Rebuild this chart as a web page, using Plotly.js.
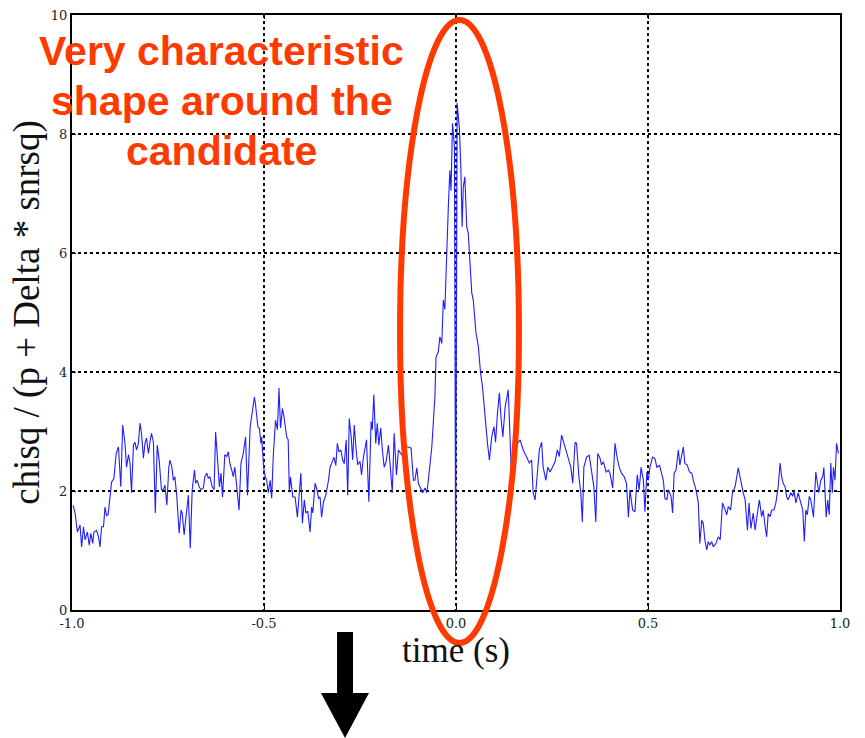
<!DOCTYPE html>
<html>
<head>
<meta charset="utf-8">
<script src="https://cdn.plot.ly/plotly-3.0.1.min.js"></script>
<style>html,body{margin:0;padding:0;background:#fff;}#chart{width:865px;height:738px;}</style>
</head>
<body>
<div id="chart"></div>
<script>
// time (s)
const timeS = [
-0.997,-0.992,-0.986,-0.979,-0.975,-0.970,-0.966,-0.960,-0.955,-0.951,-0.946,-0.943,-0.936,-0.931,-0.927,-0.923,-0.918,-0.914,-0.910,-0.906,
-0.901,-0.897,-0.891,-0.885,-0.879,-0.877,-0.873,-0.868,-0.862,-0.858,-0.853,-0.849,-0.845,-0.840,-0.836,-0.832,-0.827,-0.823,-0.819,-0.814,
-0.810,-0.806,-0.801,-0.797,-0.793,-0.788,-0.783,-0.778,-0.773,-0.767,-0.762,-0.758,-0.753,-0.748,-0.745,-0.740,-0.736,-0.732,-0.727,-0.721,
-0.716,-0.713,-0.708,-0.704,-0.697,-0.692,-0.687,-0.681,-0.678,-0.674,-0.669,-0.664,-0.658,-0.654,-0.649,-0.645,-0.641,-0.635,-0.630,-0.626,
-0.621,-0.616,-0.612,-0.608,-0.602,-0.597,-0.593,-0.589,-0.584,-0.580,-0.576,-0.571,-0.565,-0.560,-0.554,-0.548,-0.543,-0.536,-0.530,-0.525,
-0.522,-0.516,-0.512,-0.508,-0.506,-0.501,-0.497,-0.493,-0.489,-0.484,-0.480,-0.476,-0.470,-0.465,-0.461,-0.457,-0.452,-0.448,-0.441,-0.437,
-0.434,-0.431,-0.425,-0.419,-0.413,-0.408,-0.404,-0.400,-0.395,-0.391,-0.386,-0.380,-0.376,-0.373,-0.367,-0.363,-0.358,-0.354,-0.350,-0.345,
-0.339,-0.332,-0.328,-0.324,-0.318,-0.313,-0.309,-0.305,-0.300,-0.295,-0.291,-0.286,-0.282,-0.278,-0.273,-0.269,-0.265,-0.260,-0.256,-0.250,
-0.246,-0.241,-0.237,-0.233,-0.227,-0.221,-0.218,-0.214,-0.209,-0.205,-0.201,-0.196,-0.192,-0.187,-0.182,-0.176,-0.171,-0.166,-0.161,-0.155,
-0.150,-0.141,-0.133,-0.124,-0.117,-0.111,-0.107,-0.102,-0.098,-0.091,-0.087,-0.081,-0.076,-0.072,-0.063,-0.055,-0.052,-0.046,-0.042,-0.037,
-0.033,-0.029,-0.024,-0.020,-0.016,-0.013,-0.009,-0.004,-0.001,0.003,0.009,0.013,0.016,0.019,0.023,0.028,0.032,0.036,0.041,0.045,
0.052,0.058,0.064,0.069,0.076,0.082,0.087,0.093,0.099,0.103,0.108,0.113,0.117,0.122,0.128,0.131,0.136,0.145,0.154,0.167,
0.175,0.184,0.191,0.197,0.201,0.206,0.210,0.217,0.223,0.227,0.234,0.239,0.245,0.252,0.258,0.264,0.269,0.275,0.280,0.284,
0.288,0.293,0.299,0.304,0.310,0.314,0.320,0.325,0.329,0.333,0.340,0.347,0.353,0.359,0.364,0.369,0.375,0.379,0.384,0.391,
0.397,0.401,0.408,0.414,0.420,0.425,0.431,0.438,0.444,0.449,0.453,0.460,0.466,0.472,0.477,0.482,0.488,0.492,0.497,0.501,
0.505,0.512,0.518,0.523,0.530,0.536,0.540,0.544,0.549,0.553,0.560,0.564,0.568,0.573,0.579,0.583,0.592,0.596,0.602,0.608,
0.614,0.618,0.625,0.631,0.635,0.640,0.644,0.648,0.653,0.657,0.661,0.666,0.670,0.677,0.683,0.688,0.694,0.701,0.705,0.709,
0.715,0.720,0.727,0.735,0.741,0.748,0.753,0.759,0.763,0.768,0.774,0.779,0.785,0.790,0.796,0.800,0.805,0.809,0.813,0.818,
0.822,0.828,0.833,0.839,0.844,0.848,0.852,0.857,0.861,0.865,0.872,0.877,0.880,0.885,0.891,0.896,0.903,0.907,0.911,0.915,
0.920,0.924,0.931,0.937,0.941,0.945,0.950,0.955,0.958,0.964,0.968,0.972,0.976,0.980,0.983,0.987,0.991,0.996
];
// chisq / (p + Delta * snrsq)
const chisqRatio = [
1.76,1.63,1.31,1.43,1.06,1.40,1.18,1.31,1.09,1.29,1.12,1.31,1.34,1.23,1.06,1.40,1.40,1.73,1.59,1.60,
1.90,2.15,2.21,2.63,2.74,2.52,2.07,3.11,2.80,2.40,2.61,2.47,1.97,2.77,2.82,2.69,2.80,3.14,2.97,2.55,
2.80,2.89,2.63,2.82,2.97,2.82,1.63,2.77,2.52,2.02,2.02,2.10,1.76,2.39,2.52,2.40,2.18,2.24,1.90,1.29,
1.68,1.63,1.26,1.51,1.93,1.04,2.02,2.35,2.13,2.18,2.07,2.02,2.05,2.24,2.30,2.21,2.24,2.07,2.02,2.99,
2.47,2.07,2.30,1.90,2.61,2.58,2.66,2.47,2.35,2.24,2.40,2.07,1.68,2.47,2.63,2.91,1.93,3.08,3.36,3.58,
3.45,3.08,3.05,2.80,2.91,2.40,2.24,2.18,1.97,2.18,1.88,2.57,3.19,3.03,3.73,3.06,3.39,3.25,2.91,2.86,
1.98,2.24,1.90,1.90,1.56,1.90,2.30,1.46,1.85,1.63,1.66,1.31,1.73,1.63,2.13,2.05,1.88,1.90,1.56,1.82,
1.93,2.18,2.40,2.46,2.57,2.43,2.80,2.66,2.69,2.52,2.46,2.86,1.93,3.22,2.91,2.52,3.11,2.69,2.44,2.50,
2.27,2.57,2.74,2.86,1.82,3.17,3.03,3.62,2.80,3.14,2.77,3.06,2.71,2.40,2.49,2.77,2.40,1.97,2.97,2.27,
2.69,2.60,2.74,2.74,2.72,2.18,2.18,2.39,2.13,2.02,1.97,2.05,1.97,2.18,2.74,3.58,4.25,4.34,4.59,4.48,
5.21,5.05,6.22,6.77,7.39,7.05,8.18,7.78,0.62,8.52,8.07,7.35,6.44,7.11,7.28,6.44,6.33,5.88,5.33,5.21,
4.66,4.44,3.98,3.75,3.19,2.80,2.52,2.91,3.08,2.82,3.31,3.65,3.25,2.91,3.41,3.55,3.70,2.18,2.74,2.86,
2.69,2.57,2.47,2.52,1.97,1.85,2.13,2.69,2.82,2.40,2.18,2.40,2.32,2.40,2.49,2.69,2.58,2.94,2.83,2.74,
2.63,2.52,2.40,2.13,2.82,2.80,2.24,1.97,1.48,2.40,2.57,2.60,2.32,2.07,1.48,2.63,2.55,2.44,2.49,2.32,
2.35,2.30,2.05,2.80,2.55,2.40,2.30,2.24,2.13,1.56,2.02,1.68,1.65,2.27,2.02,2.40,2.18,1.65,2.32,2.18,
2.40,2.57,2.55,2.40,2.43,2.27,2.18,1.88,1.85,2.02,1.91,1.63,2.30,2.35,2.69,2.44,2.74,2.46,2.44,2.32,
2.30,2.18,2.02,1.80,1.12,1.51,1.46,1.18,1.01,1.15,1.09,1.15,1.06,1.12,1.23,1.18,1.80,1.68,1.60,1.74,
1.68,1.97,2.08,2.39,2.18,1.97,1.85,1.34,1.80,1.37,1.63,1.34,1.63,1.85,1.57,1.68,1.40,1.23,1.62,1.57,
1.68,1.68,1.80,2.07,2.47,2.24,2.13,2.07,1.91,1.85,1.97,1.91,2.02,1.80,1.97,1.85,1.68,1.15,1.68,1.60,
1.91,1.85,1.56,2.32,2.13,1.97,2.18,2.24,2.40,1.56,1.85,1.60,2.47,1.97,2.40,2.18,2.80,2.63
];
const xTickVals = [-1, -0.5, 0, 0.5, 1];
const xTickText = ['-1.0', '-0.5', '0.0', '0.5', '1.0'];
const yTickVals = [0, 2, 4, 6, 8, 10];
const yTickText = ['0', '2', '4', '6', '8', '10'];
const noteLines = ['Very characteristic', 'shape around the', 'candidate'];

const RED = '#ff3a00';
const trace = {
  x: timeS, y: chisqRatio, type: 'scatter', mode: 'lines',
  line: {color: 'rgb(30,30,255)', width: 1.1}, hoverinfo: 'skip'
};
const tickFont = {family: 'DejaVu Serif', size: 13, color: '#222'};
const axisCommon = {
  showgrid: true, gridcolor: '#000', griddash: 'dot', gridwidth: 1.4,
  showline: true, linecolor: '#000', linewidth: 2, mirror: 'allticks',
  ticks: 'inside', ticklen: 4, tickcolor: '#000', tickwidth: 1,
  zeroline: false, tickfont: tickFont, automargin: false, fixedrange: true
};
const layout = {
  width: 865, height: 738, autosize: false,
  margin: {l: 72, r: 25, t: 15, b: 128},
  paper_bgcolor: '#fff', plot_bgcolor: '#fff', showlegend: false,
  xaxis: Object.assign({}, axisCommon, {
    range: [-1, 1], tickmode: 'array', tickvals: xTickVals, ticktext: xTickText,
    title: {text: 'time (s)', font: {family: 'Liberation Serif', size: 35, color: '#111'}, standoff: 6}
  }),
  yaxis: Object.assign({}, axisCommon, {
    range: [0, 10], tickmode: 'array', tickvals: yTickVals, ticktext: yTickText,
    title: {text: 'chisq / (p + Delta * snrsq)', font: {family: 'Liberation Serif', size: 37, color: '#111'}, standoff: 0}
  }),
  shapes: [
    {type: 'circle', xref: 'paper', yref: 'paper', x0: 0.4271, x1: 0.5820, y0: -0.0555, y1: 0.9916,
     line: {color: RED, width: 6}, layer: 'above'},
    {type: 'rect', xref: 'paper', yref: 'paper', x0: 0.3451, x1: 0.3659, y0: -0.0370, y1: -0.1400,
     fillcolor: '#000', line: {width: 0}, layer: 'above'},
    {type: 'path', xref: 'paper', yref: 'paper',
     path: 'M 0.3242 -0.1395 L 0.3867 -0.1395 L 0.3555 -0.2151 Z',
     fillcolor: '#000', line: {width: 0}, layer: 'above'}
  ],
  annotations: noteLines.map((txt, i) => ({
    text: '<b>' + txt + '</b>', xref: 'paper', yref: 'paper',
    x: 0.195, y: 0.939 - i * 0.084, xanchor: 'center', yanchor: 'middle',
    showarrow: false, font: {family: 'Liberation Sans', size: 41, color: RED}
  }))
};
Plotly.newPlot('chart', [trace], layout, {displayModeBar: false, staticPlot: true});
</script>
</body>
</html>
